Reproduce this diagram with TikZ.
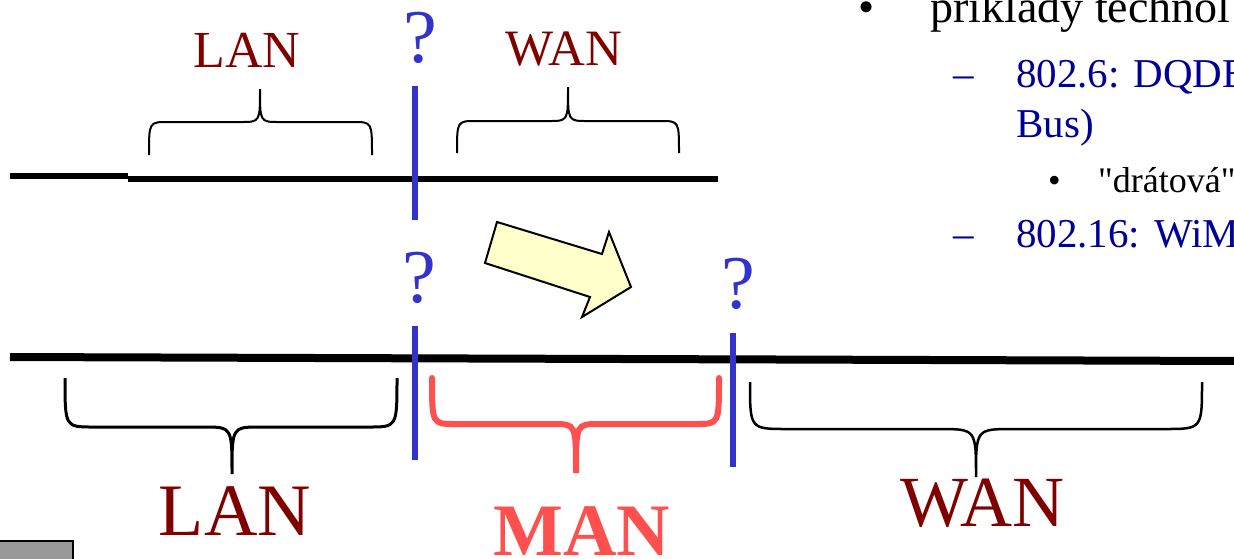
\documentclass[tikz,border=0pt]{standalone}
\usepackage{fontspec}
\setmainfont{Liberation Serif}
\usetikzlibrary{shapes.geometric, arrows}
\definecolor{netred}{HTML}{800000}
\definecolor{qblue}{HTML}{3333CC}
\definecolor{manred}{HTML}{FF5050}
\definecolor{itemblue}{HTML}{000099}
\definecolor{shiftyellow}{HTML}{FFFFCC}
\tikzstyle{netname} = [text=netred, inner sep=0, anchor=base]
\tikzstyle{query} = [text=qblue, inner sep=0, anchor=base, font=\fontsize{76}{76}\selectfont]
\tikzstyle{border} = [draw=qblue, line width=6pt]
\tikzstyle{wire} = [draw=black, line width=6pt]
\tikzstyle{item} = [inner sep=0, anchor=base west]
\tikzstyle{shiftarrow} = [draw=black, fill=shiftyellow, line width=2pt, line join=miter]
% brace: style, left x, tip x, right x, end y, middle y, tip y, radius
\newcommand{\netbrace}[8]{\draw[#1] (#2,#5) .. controls (#2,#6) .. ({#2+#8},#6) -- ({#3-#8},#6) .. controls (#3,#6) .. (#3,#7) .. controls (#3,#6) .. ({#3+#8},#6) -- ({#4-#8},#6) .. controls (#4,#6) .. (#4,#5);}

\begin{document}
\begin{tikzpicture}[x=1pt, y=-1pt]
\useasboundingbox (0,0) rectangle (1234,558);
\clip (0,0) rectangle (1234,558);
% upper line
\node (lanTop) [netname, font=\fontsize{52}{52}\selectfont] at (247,67) {LAN};
\node (wanTop) [netname, font=\fontsize{51}{51}\selectfont] at (564,65) {WAN};
\node (qTop) [query] at (420,62) {?};
\draw [wire] (10,176) -- (128,176);
\draw [wire] (128,179) -- (718,179);
\draw [border] (415,86) -- (415,220);
\netbrace{black, line width=2pt}{149}{260}{372}{155}{122}{89}{19}
\netbrace{black, line width=2pt}{457}{568}{679}{153}{121}{87}{19}
\draw [shiftarrow] (497,222) -- (602,254) -- (609,232) -- (631,287) -- (582,317) -- (590,297) -- (485,263) -- cycle;
% lower line
\node (qLeft) [query] at (419,302) {?};
\node (qRight) [query] at (738,308) {?};
\draw [wire, line width=8pt] (10,357) -- (1240,361);
\draw [border] (415,326) -- (415,460);
\draw [border] (733,333) -- (733,467);
\netbrace{black, line width=3pt}{65}{232}{397}{378}{427}{474}{28}
\netbrace{manred, line width=6pt, line cap=round}{432}{576}{719}{378}{424}{473}{23}
\netbrace{black, line width=2.5pt}{750}{976}{1202}{382}{429}{477}{37}
\node (lanBottom) [netname, font=\fontsize{74}{74}\selectfont] at (235,535) {LAN};
\node (manBottom) [netname, text=manred, font=\fontsize{74}{74}\selectfont\bfseries] at (582,555) {MAN};
\node (wanBottom) [netname, font=\fontsize{72}{72}\selectfont] at (982,526) {WAN};
\draw [fill={rgb,255:red,153;green,153;blue,153}, draw=black, line width=1.5pt] (-2,541) rectangle (73,562);
% bullet list
\node (dot1) [item, font=\fontsize{46}{46}\selectfont] at (858,22) {•};
\node (line1) [item, font=\fontsize{46}{46}\selectfont] at (930,22) {příklady technol};
\node (dash1) [item, text=itemblue, font=\fontsize{41}{41}\selectfont] at (953,87) {–};
\node (line2) [item, text=itemblue, font=\fontsize{41}{41}\selectfont] at (1016,87) {802.6: DQDB};
\node (line3) [item, text=itemblue, font=\fontsize{41}{41}\selectfont] at (1016,137) {Bus)};
\node (dot2) [item, font=\fontsize{36}{36}\selectfont] at (1048,192) {•};
\node (line4) [item, font=\fontsize{36}{36}\selectfont] at (1098,192) {\textquotedbl drátová\textquotedbl};
\node (dash2) [item, text=itemblue, font=\fontsize{41}{41}\selectfont] at (953,247) {–};
\node (line5) [item, text=itemblue, font=\fontsize{41}{41}\selectfont] at (1016,247) {802.16: WiM};
\end{tikzpicture}
\end{document}
